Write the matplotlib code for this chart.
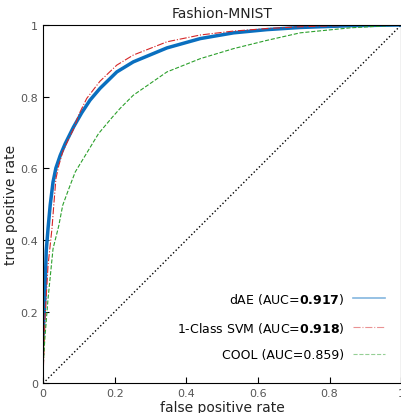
import numpy as np
import matplotlib
matplotlib.use('Agg')
import matplotlib.pyplot as plt

# ROC points (fpr, tpr)
dae_fpr = [0, 0.005, 0.009, 0.014, 0.02, 0.028, 0.036, 0.048, 0.062, 0.085, 0.108, 0.131, 0.159,
           0.206, 0.252, 0.346, 0.439, 0.532, 0.625, 0.718, 0.86, 1.0]
dae_tpr = [0.134, 0.236, 0.37, 0.432, 0.497, 0.562, 0.601, 0.636, 0.669, 0.715, 0.755, 0.79, 0.823,
           0.869, 0.897, 0.936, 0.962, 0.978, 0.987, 0.993, 0.998, 1.0]

svm_fpr = [0, 0.006, 0.014, 0.025, 0.03, 0.036, 0.044, 0.055, 0.072, 0.086, 0.099, 0.122, 0.145,
           0.159, 0.206, 0.252, 0.346, 0.439, 0.532, 0.625, 0.718, 0.86, 1.0]
svm_tpr = [0.013, 0.19, 0.329, 0.432, 0.497, 0.571, 0.608, 0.646, 0.683, 0.711, 0.748, 0.795, 0.825,
           0.843, 0.888, 0.916, 0.953, 0.972, 0.983, 0.99, 0.995, 0.999, 1.0]

cool_fpr = [0, 0.005, 0.014, 0.028, 0.044, 0.055, 0.072, 0.09, 0.107, 0.155, 0.192, 0.215, 0.252,
            0.346, 0.439, 0.532, 0.625, 0.718, 0.858, 1.0]
cool_tpr = [0.04, 0.124, 0.236, 0.376, 0.44, 0.497, 0.543, 0.59, 0.618, 0.697, 0.741, 0.767, 0.804,
            0.869, 0.906, 0.934, 0.957, 0.978, 0.992, 1.0]

labels = [r'dAE (AUC=$\mathbf{0.917}$)', r'1-Class SVM (AUC=$\mathbf{0.918}$)', 'COOL (AUC=0.859)']
ticks = [0, 0.2, 0.4, 0.6, 0.8, 1]
tick_labels = ['0', '0.2', '0.4', '0.6', '0.8', '1']

fig = plt.figure(figsize=(4.02, 4.14), dpi=100)
ax = fig.add_axes([0.107, 0.0713, 0.891, 0.866])

ax.plot([0, 1], [0, 1], ':', color='black', lw=1.0)
ax.plot(dae_fpr, dae_tpr, '-', color='#0a6fbf', lw=2.5, label=labels[0])
ax.plot(svm_fpr, svm_tpr, '-.', color='#d62728', lw=0.8, label=labels[1])
ax.plot(cool_fpr, cool_tpr, '--', color='#2ca02c', lw=0.8, label=labels[2])

ax.set_xlim(0, 1)
ax.set_ylim(0, 1)
ax.set_xticks(ticks)
ax.set_xticklabels(tick_labels)
ax.set_yticks(ticks)
ax.set_yticklabels(tick_labels)
ax.tick_params(direction='in', labelsize=8, labelcolor='#555555', length=4)
ax.set_xlabel('false positive rate', fontsize=10, color='#222222', labelpad=1)
ax.set_ylabel('true positive rate', fontsize=10, color='#222222', labelpad=2)
ax.set_title('Fashion-MNIST', fontsize=10, color='#222222', pad=6)

leg = ax.legend(loc='lower right', bbox_to_anchor=(0.955, 0.062), frameon=False,
                markerfirst=False, fontsize=9, labelspacing=1.1, handlelength=2.6,
                handletextpad=0.65, borderpad=0, borderaxespad=0)
for h in leg.legend_handles:
    h.set_alpha(0.5)
leg.legend_handles[0].set_linewidth(1.2)

fig.savefig('out.png', dpi=100)
